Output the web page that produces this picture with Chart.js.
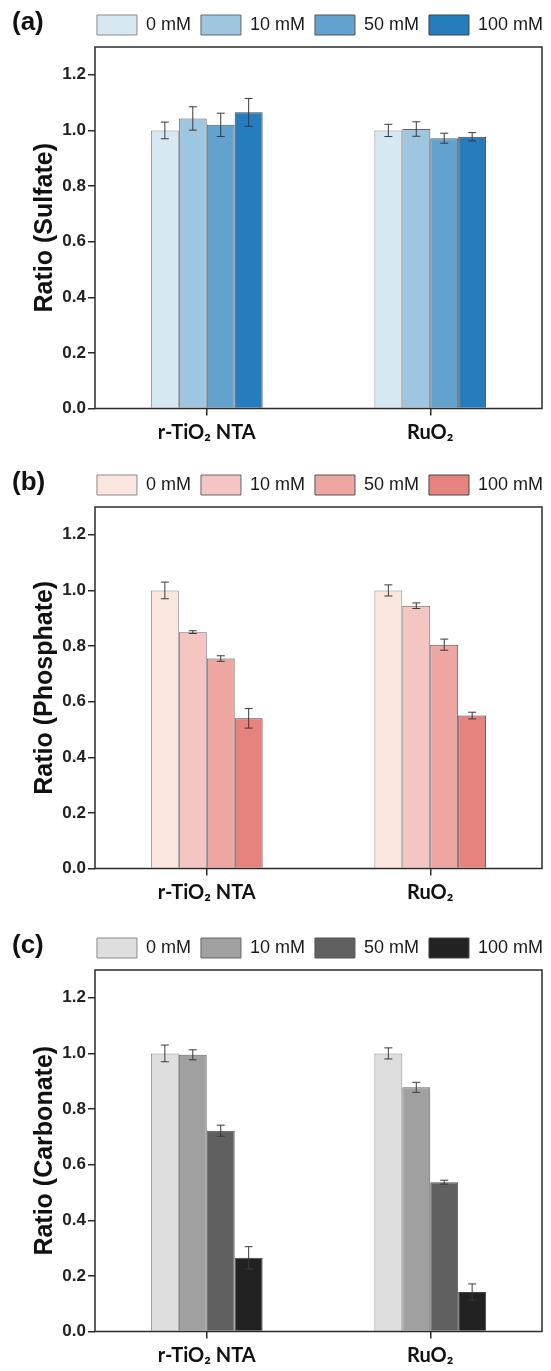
<!DOCTYPE html>
<html>
<head>
<meta charset="utf-8">
<script src="https://cdn.jsdelivr.net/npm/chart.js@4"></script>
<style>
  html, body { margin: 0; padding: 0; background: #fff; overflow: hidden; }
  canvas { display: block; }
</style>
</head>
<body>
<canvas id="sulfateChart" width="551" height="460"></canvas>
<canvas id="phosphateChart" width="551" height="463"></canvas>
<canvas id="carbonateChart" width="551" height="448"></canvas>
<script>
const categories = ['r-TiO₂ NTA', 'RuO₂'];
const concentrations = ['0 mM', '10 mM', '50 mM', '100 mM'];
const yTicks = [0, 0.2, 0.4, 0.6, 0.8, 1.0, 1.2];

// one inner array per concentration: [r-TiO2 NTA, RuO2]
const sulfateValues = [[1.00, 1.00], [1.043, 1.005], [1.02, 0.972], [1.065, 0.977]];
const sulfateErrors = [[0.03, 0.022], [0.042, 0.026], [0.042, 0.018], [0.05, 0.015]];
const phosphateValues = [[1.00, 1.00], [0.85, 0.945], [0.755, 0.805], [0.54, 0.55]];
const phosphateErrors = [[0.03, 0.02], [0.005, 0.01], [0.01, 0.02], [0.035, 0.012]];
const carbonateValues = [[1.00, 1.00], [0.995, 0.878], [0.722, 0.537], [0.265, 0.142]];
const carbonateErrors = [[0.03, 0.02], [0.018, 0.018], [0.02, 0.007], [0.04, 0.029]];

const blues = ['rgb(214,232,241)', 'rgb(158,198,224)', 'rgb(99,161,206)', 'rgb(38,125,190)'];
const reds = ['rgb(250,229,223)', 'rgb(244,197,195)', 'rgb(237,166,162)', 'rgb(231,131,126)'];
const greys = ['rgb(222,222,222)', 'rgb(160,160,160)', 'rgb(96,96,96)', 'rgb(34,34,34)'];
const edges = ['#8a8a8a', '#666', '#555', '#444'];

Chart.defaults.font.family = '"Liberation Sans", Arial, sans-serif';
Chart.defaults.color = '#111';

// I-shaped error bars on top of every bar
const errorBars = {
    id: 'errorBars',
    afterDatasetsDraw(chart) {
        const ctx = chart.ctx;
        const y = chart.scales.y;
        ctx.save();
        ctx.strokeStyle = '#3a3a3a';
        ctx.lineWidth = 1;
        chart.data.datasets.forEach((ds, i) => {
            chart.getDatasetMeta(i).data.forEach((bar, j) => {
                const top = y.getPixelForValue(ds.data[j] + ds.errors[j]);
                const bot = y.getPixelForValue(ds.data[j] - ds.errors[j]);
                ctx.beginPath();
                ctx.moveTo(bar.x, top); ctx.lineTo(bar.x, bot);
                ctx.moveTo(bar.x - 4, top); ctx.lineTo(bar.x + 4, top);
                ctx.moveTo(bar.x - 4, bot); ctx.lineTo(bar.x + 4, bot);
                ctx.stroke();
            });
        });
        ctx.restore();
    }
};

// box round the plot and the (a)/(b)/(c) label
const frame = {
    id: 'frame',
    afterLayout(chart) {
        // legend spans the plot width in the original
        chart.legend.left += 11; chart.legend.right += 11;
        chart.legend.top -= 2; chart.legend.bottom -= 2;
    },
    afterDraw(chart, args, opts) {
        const { ctx, chartArea: a } = chart;
        ctx.save();
        ctx.strokeStyle = '#2b2b2b';
        ctx.lineWidth = 1.5;
        ctx.strokeRect(a.left, a.top, a.right - a.left, a.bottom - a.top);
        ctx.fillStyle = '#111';
        ctx.font = 'bold 26px "Liberation Sans", Arial, sans-serif';
        ctx.textBaseline = 'middle';
        ctx.fillText(opts.label, 12, 23);
        ctx.restore();
    }
};

function makeChart(id, label, title, values, errors, fills) {
    const canvas = document.getElementById(id);
    const h = canvas.height;
    new Chart(canvas, {
        type: 'bar',
        data: {
            labels: categories,
            datasets: concentrations.map((c, i) => ({
                label: c,
                data: values[i],
                errors: errors[i],
                backgroundColor: fills[i],
                borderColor: edges[i],
                borderWidth: 1,
                categoryPercentage: 0.5,
                barPercentage: 1
            }))
        },
        options: {
            responsive: false,
            animation: false,
            layout: { padding: { top: 7, right: 9, left: 0, bottom: 0 } },
            plugins: {
                legend: {
                    align: 'end',
                    labels: { boxWidth: 40, boxHeight: 20, padding: 10, color: '#1a1a1a', font: { size: 18 } }
                },
                tooltip: { enabled: false },
                frame: { label: label }
            },
            scales: {
                x: {
                    grid: { offset: false, drawOnChartArea: false, tickLength: 7, color: '#2b2b2b', lineWidth: 1.5 },
                    border: { display: false },
                    ticks: { padding: 5, color: '#111', font: { family: 'Lato', weight: 'bold', size: 20 } },
                    afterFit(s) { s.height = h - 408.5; }
                },
                y: {
                    min: 0,
                    max: 1.3,
                    grid: { drawOnChartArea: false, tickLength: 7, color: '#2b2b2b', lineWidth: 1.5 },
                    border: { display: false },
                    ticks: {
                        padding: 2,
                        color: '#222',
                        font: { weight: 'bold', size: 17 },
                        callback: v => v.toFixed(1)
                    },
                    afterBuildTicks(s) { s.ticks = yTicks.map(v => ({ value: v })); },
                    title: {
                        display: true,
                        text: title,
                        color: '#111',
                        font: { weight: 'bold', size: 25 },
                        padding: { top: 30, bottom: 0 }
                    },
                    afterFit(s) { s.width = 95; }
                }
            }
        },
        plugins: [errorBars, frame]
    });
}

makeChart('sulfateChart', '(a)', 'Ratio (Sulfate)', sulfateValues, sulfateErrors, blues);
makeChart('phosphateChart', '(b)', 'Ratio (Phosphate)', phosphateValues, phosphateErrors, reds);
makeChart('carbonateChart', '(c)', 'Ratio (Carbonate)', carbonateValues, carbonateErrors, greys);
</script>
</body>
</html>
